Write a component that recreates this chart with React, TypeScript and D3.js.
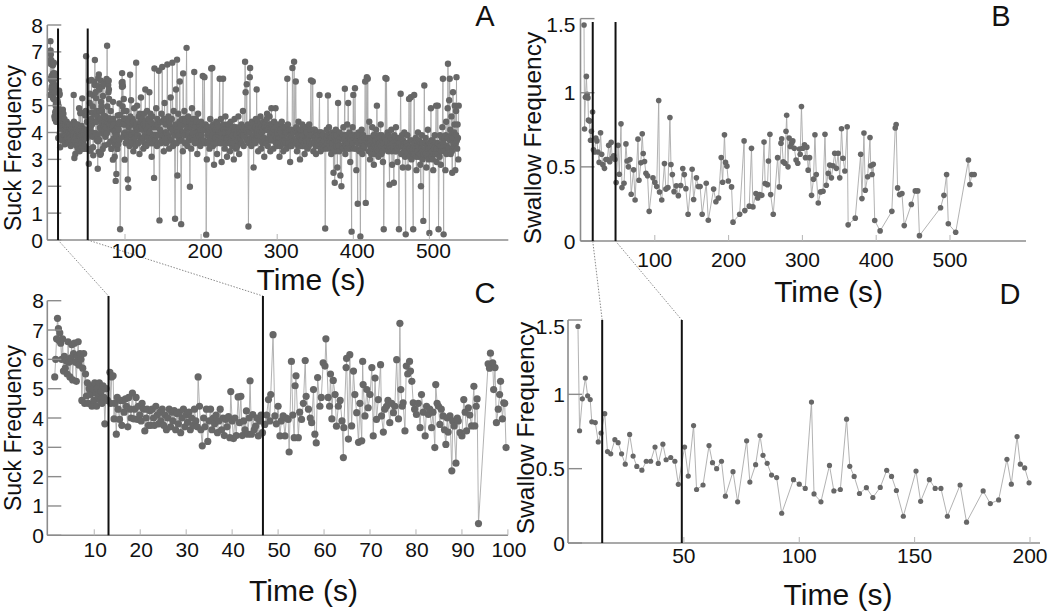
import React from 'react';
import * as d3 from 'd3';

// ---------- DATA (time s, frequency) ----------
// Suck frequency, first 100 s (panel C, and start of panel A)
const suckEarly: [number, number][] = [
  [1.4,5.4],[1.6,6.0],[1.8,6.7],[2.0,7.4],[2.2,7.05],[2.3,6.65],[2.5,6.9],[2.7,6.55],[2.9,6.0],[3.1,6.7],[3.3,5.6],[3.5,6.1],[3.7,5.7],[3.9,5.95],[4.1,5.5],[4.3,6.6],[4.5,5.9],[4.7,5.4],[4.9,6.05],[5.1,6.5],[5.3,5.3],[5.5,6.2],[5.7,6.55],[5.9,5.9],[6.1,5.25],[6.3,6.1],[6.5,6.6],[6.7,5.8],[6.9,6.2],[7.1,6.0],[7.3,4.6],[7.5,5.7],[7.7,6.2],[7.9,4.5],[8.1,5.5],[8.3,4.75],[8.5,5.2],[8.7,4.5],[8.9,5.0],[9.1,4.8],[9.3,5.1],[9.5,4.4],[9.7,5.0],[9.9,4.6],[10.1,5.2],[10.3,4.85],[10.5,4.4],[10.7,5.0],[10.9,4.7],[11.1,5.2],[11.3,4.6],[11.5,4.9],[11.7,4.5],[11.9,5.1],[12.1,4.7],[12.3,3.8],[12.6,5.0],[12.9,4.6],
  [13.4,5.56],[13.6,4.5],[13.8,5.4],[14.1,5.44],[14.3,3.97],[14.5,4.5],[14.8,3.45],[15.0,4.7],[15.2,4.3],[15.5,3.95],[15.7,4.6],[16.0,3.75],[16.2,4.6],[16.5,4.2],[16.8,4.65],[17.0,4.4],[17.3,3.7],[17.5,4.7],[17.8,4.3],[18.0,4.0],[18.3,4.85],[18.6,3.97],[18.8,4.3],[19.1,4.7],[19.4,3.95],[19.6,4.4],[19.9,4.1],[20.2,3.9],[20.4,4.5],[20.7,4.3],[21.0,3.56],[21.3,4.0],[21.5,4.3],[21.8,3.75],[22.1,4.25],[22.3,3.75],[22.6,4.3],[22.9,4.0],[23.1,3.75],[23.4,4.4],[23.7,4.1],[24.0,3.8],[24.3,4.2],[24.5,3.9],[24.8,4.3],[25.1,3.75],[25.4,4.1],[25.7,3.6],[26.0,4.0],[26.3,4.3],[26.6,3.7],[26.9,4.2],[27.1,3.9],[27.4,4.25],[27.7,3.6],[28.0,4.15],[28.3,3.8],[28.5,4.2],[28.8,3.5],[29.1,4.0],[29.4,4.3],[29.7,3.7],[30.0,4.1],[30.3,3.85],[30.6,4.2],[30.9,3.6],[31.2,4.0],[31.5,3.75],[31.8,4.3],[32.1,3.9],[32.4,3.7],[32.6,5.4],[32.9,4.4],[33.2,3.6],[33.5,3.05],[33.8,4.0],[34.1,3.7],[34.4,4.3],[34.7,3.2],[35.0,3.9],[35.3,4.3],[35.6,3.6],[35.9,4.0],[36.2,3.8],[36.5,4.1],[36.8,3.5],[37.1,3.9],[37.4,4.3],[37.7,3.6],[38.0,4.0],[38.3,3.4],[38.6,3.95],[38.9,3.7],[39.2,4.05],[39.5,3.33],[39.7,4.9],[40.0,3.9],[40.3,3.3],[40.6,4.0],[40.9,3.4],[41.3,4.72],[41.6,3.84],[41.9,4.74],[42.2,3.4],[42.5,3.9],[42.8,3.6],[43.1,4.24],[43.4,3.45],[43.7,4.0],[43.9,5.27],[44.2,3.45],[44.5,4.12],[44.8,3.6],[45.1,3.72],[45.4,4.0],[45.7,3.39],[46.0,3.9],[46.3,4.1],[46.6,3.5],
  [47.1,3.78],[47.5,4.1],[47.9,4.63],[48.2,3.9],[48.4,4.8],[48.9,6.84],[49.3,4.07],[49.6,3.8],[50.0,4.4],[50.4,3.39],[50.7,3.9],[51.1,4.07],[51.5,3.39],[51.8,4.0],[52.2,3.95],[52.4,2.84],[52.9,5.93],[53.2,4.1],[53.5,3.33],[53.7,5.1],[53.9,5.44],[54.4,3.33],[54.7,4.2],[55.1,3.95],[55.5,4.5],[55.9,5.96],[56.1,4.74],[56.6,4.3],[57.0,4.0],[57.3,3.84],[57.7,4.97],[58.0,3.45],[58.3,3.15],[58.6,5.38],[59.1,4.4],[59.4,4.7],[59.8,5.88],[60.2,5.77],[60.4,6.7],[60.9,4.7],[61.2,4.4],[61.4,5.5],[61.7,3.97],[62.0,5.28],[62.4,4.8],[62.7,3.72],[63.1,4.4],[63.5,4.6],[63.9,3.9],[64.2,2.65],[64.3,3.67],[64.8,5.72],[64.9,6.03],[65.3,3.28],[65.6,6.16],[66.0,3.73],[66.4,5.6],[66.7,4.8],[67.1,4.18],[67.5,3.17],[67.8,4.5],[68.2,3.22],[68.4,5.93],[68.5,5.14],[68.9,4.07],[69.3,4.97],[69.6,4.35],[70.0,4.8],[70.4,5.72],[70.7,3.39],[71.1,5.36],[71.4,3.95],[71.8,4.63],[72.3,5.82],[72.5,4.07],[72.9,3.52],[73.2,4.3],[73.6,4.4],[73.9,4.6],[74.3,3.84],[74.7,4.5],[75.1,4.18],[75.4,4.4],[75.8,5.99],[76.2,3.97],[76.5,7.23],[76.7,4.97],[77.0,4.4],[77.2,4.52],[77.6,3.56],[77.9,5.77],[78.2,5.5],[78.6,5.93],[78.8,5.6],[79.1,5.25],[79.4,4.52],[79.7,4.3],[80.1,4.12],[80.5,4.5],[80.9,3.67],[81.2,4.8],[81.6,4.2],[82.0,3.39],[82.3,4.4],[82.7,4.12],[83.0,4.3],[83.4,3.67],[83.7,4.2],[84.1,2.99],[84.3,5.14],[84.6,4.5],[84.9,4.4],[85.2,3.78],[85.5,4.3],[85.9,4.07],[86.2,3.6],[86.5,3.1],[86.8,4.0],[87.0,3.52],[87.4,4.07],[87.8,2.2],[88.0,3.9],[88.3,3.73],[88.7,2.46],[89.0,4.0],[89.2,3.9],[89.6,3.5],[90.0,3.39],[90.4,4.63],[90.7,4.2],[91.0,3.56],[91.4,4.35],[91.7,4.1],[92.1,3.73],[92.6,5.08],[92.8,3.73],[93.1,4.4],[93.3,4.65],[93.6,0.4],[95.7,5.85],[96.0,5.7],[96.2,6.21],[96.5,5.8],[96.7,5.88],[96.9,4.97],[97.2,5.72],[97.5,3.84],[97.9,4.3],[98.2,4.8],[98.4,5.25],[98.8,3.97],[99.1,4.52],[99.3,4.5],[99.6,2.99],
];

// Suck frequency, 100 s to end (panel A only), whole-second readings and spikes
const suckLate: [number, number][] = [
  [100,4.3],[101,3.6],[102,4.8],[103,3.9],[103.6,2.25],[104.4,1.94],[105,4.4],[106,3.5],[106.7,6.15],[107.5,4.0],[108,5.2],[109,3.7],[110,4.5],[111,3.3],[112,4.9],[113,3.8],[114,4.2],[114.7,6.6],[115.5,3.6],[116,5.0],[117,3.9],[118,4.6],[119,3.2],[120,4.4],[121,5.3],[122,3.7],[123,4.1],[124,3.4],[125,4.7],[126,3.9],[126.7,5.6],[127.5,4.2],[128,3.5],[129,4.8],[130,3.8],[131,4.3],[132,5.5],[133,3.6],[134,4.4],[135,3.1],[136,4.6],[137,3.9],[138.2,2.31],[138.7,6.38],[139.5,4.2],
  [140,3.7],[141,4.9],[142,3.5],[143,4.3],[144,3.9],[144.4,6.3],[145.3,0.73],[146,4.1],[147,3.6],[148,4.7],[148.9,6.44],[149.5,3.8],[150,4.4],[151,3.3],[152,5.1],[153,4.0],[154,3.6],[155,4.5],[155.6,6.53],[156.5,3.9],[157,4.6],[158,3.4],[159,4.2],[160,5.3],[161,3.7],[162,4.1],[162.2,6.6],[163,3.5],[164,4.8],[165,3.9],[165.8,0.79],[166.5,4.3],[167,5.6],[168,3.6],[168.4,6.71],[168.9,2.4],[169.5,4.0],[170,4.7],[171,3.8],[172,5.9],[173,4.2],[173.8,0.59],[174.5,3.7],[175,4.5],[176,3.3],[176.4,6.2],[177,4.0],[178,4.8],[179,3.6],[180,4.4],[180.9,7.15],[181.5,4.1],[182,3.5],[183,4.6],[184,3.9],[185.3,1.98],[186,4.2],[187,3.4],[188,4.9],[189,3.8],[190,4.3],[191,6.25],[192,3.6],[193,4.5],[194,4.0],[195,3.2],[196,4.7],[197,3.9],[198,4.2],[199,3.5],[200,4.4],[201,3.7],[202.2,6.1],[203,4.1],[204.4,6.06],[205,3.6],[206,4.3],[206.7,0.2],[207.5,3.0],[208,4.2],[209,3.6],
  [210,4.0],[211,3.4],[212,4.5],[213.3,6.38],[214,3.8],[214.7,6.4],[215.5,3.5],[216,4.3],[217,2.8],[218,4.0],[219,3.6],[220,4.4],[221,3.2],[222,4.1],[223,3.7],[224.4,6.0],[225,3.9],[226,4.5],[227,2.9],[228,4.2],[228.9,6.0],[229.5,3.6],[230,4.1],[231,3.4],[232,4.6],[233,3.8],[234,3.1],[235,4.3],[236,3.7],[237,4.0],[238,3.3],[239,4.4],[240,3.9],[241,3.5],[242,4.2],[243,3.0],[244,4.5],[245,3.8],[246,3.4],[247,4.1],[248,3.7],[249,4.6],[250,3.2],[251,4.0],[252,3.6],[253,4.3],[254,3.9],[255,4.8],[256,3.5],[257,4.2],[257.8,6.63],[258.5,5.5],[259,3.8],
  [260,5.8],[261,4.0],[262.2,0.5],[263,3.6],[264,6.06],[264.4,6.4],[265,4.2],[266,3.5],[267,4.4],[268,3.8],[269,2.7],[270,4.1],[271,3.6],[272,4.5],[273,5.6],[274,3.9],[275,3.3],[276,4.2],[277,3.7],[278,4.6],[279,3.4],[280,4.0],[281,3.8],[282,4.4],[283,3.1],[284,4.2],[285,3.6],[286,4.5],[286.7,4.7],[287.5,3.5],[288,4.1],[289,3.8],[290,4.6],[291,3.3],[292,4.3],[292.4,4.9],[293,3.7],[294,4.0],[295,3.4],[296,4.4],[297,3.9],[297.8,4.9],[298.5,3.6],[299,4.2],
  [300,3.5],[301,4.3],[302,3.8],[303,3.1],[304,4.1],[305,3.6],[306,4.4],[307,3.9],[308,3.3],[309,4.2],[310,3.7],[311,4.0],[312,3.4],[313.3,6.0],[314,4.3],[315,3.6],[316,4.1],[317,2.9],[318,3.9],[319,3.5],[320,6.4],[321,4.0],[322.2,6.63],[323,3.7],[324.4,5.9],[325,4.2],[326,3.3],[327,3.9],[328,4.4],[329,3.6],[330,3.0],[331,4.1],[332,3.7],[333,4.3],[334,3.5],[335,3.9],[336,3.2],[337,4.2],[338,3.7],[339,4.0],[340,3.4],[341,3.8],[342,4.3],[343,3.6],[344.4,5.94],[345,3.9],[346.7,5.9],[347.5,3.3],[348,4.1],[349,3.6],[350,3.8],[351,3.2],[352,4.0],[353,3.5],[354,3.9],[355.6,5.4],[356,3.7],[357,3.3],[358,4.0],[359,3.6],
  [360,3.9],[361,3.4],[362,3.7],[363.1,0.43],[364,3.5],[365,4.1],[366,3.6],[366.7,5.38],[367.5,3.9],[368,4.2],[369,3.5],[370,3.8],[371,3.2],[372,4.0],[373,3.6],[374,2.5],[375,3.9],[375.6,2.13],[376.5,3.3],[377,4.1],[378,3.7],[379,2.7],[380,5.1],[381,3.5],[382,4.0],[383,2.4],[384.4,2.0],[385,3.8],[386,3.4],[387,4.2],[388,3.7],[388.9,5.63],[389.5,3.2],[390,3.9],[391,3.5],[392,4.3],[393.3,5.1],[394,3.6],[395,4.0],[396,2.9],[397,3.7],[397.8,0.31],[398.5,3.5],[399,4.2],[400,5.4],[401,3.4],[402.2,5.65],[403,3.8],[404,2.6],[405,3.9],[405.8,1.35],[406.5,3.6],[407,4.0],[408,3.3],[409.3,0.13],[410,3.7],[411,4.1],[412,3.2],[413,3.9],[414,3.5],[415.6,5.9],[416.4,1.38],[417.8,6.06],[419,6.0],
  [420,3.6],[421,4.4],[422,3.0],[423,3.8],[424,3.3],[425,4.2],[426,3.6],[427,2.8],[428,3.9],[429,3.4],[430,4.1],[431,5.0],[432,3.5],[433,3.1],[434,3.9],[435,3.6],[436,4.3],[437,3.2],[438,3.7],[439,2.9],[440,0.4],[441,3.8],[442.2,6.03],[443.6,6.0],[444.5,3.5],[445,4.0],[446,3.3],[447.6,2.06],[448.5,3.7],[449,3.4],[450,4.1],[451,2.8],[452,3.6],[453.3,2.13],[454,3.9],[455,3.3],[456,4.2],[457,3.5],[458,2.9],[459,3.8],[460,0.4],[461,3.6],[462.2,5.44],[463,3.2],[464,3.9],[465,2.7],[466,3.5],[467,4.0],[468,3.1],[468.9,0.21],[469.5,3.6],
  [470,3.3],[471,3.9],[472,2.7],[473.3,5.25],[474,3.4],[475.6,5.31],[476.5,3.0],[477,3.7],[478.7,0.4],[479.5,3.5],[480,5.4],[481,3.2],[482,3.8],[483,2.6],[484,3.5],[485,4.0],[486,3.1],[487,3.6],[488,2.8],[488.9,2.0],[489.5,3.4],[490,3.9],[491,3.0],[492,0.71],[493.3,5.75],[494,3.3],[495,3.8],[496,2.7],[497,3.5],[498,4.1],[499,3.0],[500,0.26],[501,3.6],[502,4.9],[503,3.1],[504,3.7],[505,2.6],[506,3.4],[507,3.9],[508,3.2],[508.9,5.0],[509.5,2.9],[510,3.6],[511,5.0],[512,0.4],[513,3.4],[514,3.9],[515,2.8],[516,3.5],[517,4.2],[517.8,6.0],[518.7,0.21],[519.5,3.3],[520,3.8],[521,2.6],[522,4.4],[523,3.5],[524,4.9],[524.4,6.56],[525,3.8],[526,5.2],[526.7,6.0],[527.5,4.1],[528,3.2],[529,4.6],[530,2.5],[531,5.5],[532,3.6],[533,4.3],[533.3,5.0],[534,2.6],[535,4.8],[535.6,6.06],[536.5,3.4],[537,4.3],[538,3.0],[538.5,5.0],
];

// Suck frequency, 100 s to end, in-between readings inside the dense band
const suckLateHalf: [number, number][] = [
  [100.5,4.0],[101.5,4.5],[102.5,3.7],[104.8,4.2],[105.5,3.9],[107,4.6],[108.5,3.9],[109.5,4.3],[110.5,3.6],[111.5,4.4],[112.5,4.0],[113.5,3.5],[115,4.3],[116.5,4.1],[117.5,3.6],[118.5,4.2],[119.5,4.7],[120.5,3.8],[121.5,4.2],[122.5,4.5],[123.5,3.8],[124.5,4.3],[125.5,3.6],[127,4.4],[128.5,4.1],[129.5,3.9],[130.5,4.5],[131.5,3.7],[132.5,4.0],[133.5,4.7],[134.5,3.8],[135.5,4.2],[136.5,3.6],[137.5,4.3],[139,3.9],
  [140.5,4.3],[141.5,3.9],[142.5,4.5],[143.5,3.6],[146.5,4.4],[147.5,4.0],[148.5,3.7],[150.5,3.9],[151.5,4.5],[152.5,3.8],[153.5,4.3],[154.5,4.0],[157.5,3.8],[158.5,4.4],[159.5,3.7],[160.5,4.2],[161.5,4.5],[163.5,4.0],[164.5,3.6],[167.5,4.1],[170.5,3.9],[171.5,4.4],[172.5,3.7],[175.5,4.0],[177.5,4.3],[178.5,3.9],[179.5,4.5],[182.5,4.2],[183.5,3.7],[184.5,4.4],[186.5,3.8],[187.5,4.3],[188.5,4.0],[189.5,4.5],[190.5,3.7],[192.5,4.2],[193.5,3.8],[194.5,4.4],[195.5,4.0],[196.5,3.6],[197.5,4.3],[198.5,3.8],[199.5,4.1],[200.5,3.9],[201.5,4.3],[203.5,3.7],[205.5,4.1],[208.5,3.9],[209.5,4.2],
  [210.5,3.7],[211.5,4.1],[212.5,3.8],[213.8,4.2],[215,3.9],[216.5,3.6],[217.5,4.2],[218.5,3.8],[219.5,4.1],[220.5,3.6],[221.5,4.3],[222.5,3.9],[223.5,4.2],[225.5,3.6],[226.5,4.0],[227.5,3.8],[229,4.3],[230.5,3.8],[231.5,4.0],[232.5,3.6],[233.5,4.2],[234.5,3.8],[235.5,4.0],[236.5,4.3],[237.5,3.6],[238.5,4.0],[239.5,3.7],[240.5,4.2],[241.5,3.9],[242.5,3.6],[243.5,4.1],[244.5,3.7],[245.5,4.2],[246.5,3.9],[247.5,3.5],[248.5,4.1],[249.5,3.8],[250.5,4.2],[251.5,3.7],[252.5,4.0],[253.5,3.6],[254.5,4.2],[255.5,3.9],[256.5,4.1],[259.5,4.1],
  [260.5,3.7],[261.5,4.3],[263.5,4.0],[265.5,3.8],[266.5,4.2],[267.5,3.6],[268.5,4.3],[269.5,3.9],[270.5,3.7],[271.5,4.2],[272.5,3.8],[273.5,4.1],[274.5,4.4],[275.5,3.8],[276.5,4.0],[277.5,4.3],[278.5,3.9],[279.5,4.2],[280.5,3.6],[281.5,4.1],[282.5,3.8],[283.5,4.3],[284.5,3.7],[285.5,4.1],[287,4.2],[288.5,3.7],[289.5,4.3],[290.5,3.9],[291.5,4.2],[293.5,4.3],[294.5,3.8],[295.5,4.1],[296.5,3.7],[297.3,4.2],[299.5,3.8],
  [300.5,4.0],[301.5,3.6],[302.5,4.1],[303.5,3.8],[304.5,3.5],[305.5,4.0],[306.5,3.7],[307.5,4.2],[308.5,3.6],[309.5,3.9],[310.5,4.2],[311.5,3.6],[312.5,4.0],[314.5,3.7],[315.5,4.1],[316.5,3.8],[317.5,3.5],[318.5,4.1],[319.5,3.8],[321.5,3.6],[323.5,4.1],[325.5,3.7],[326.5,4.0],[327.5,3.5],[328.5,3.9],[329.5,4.1],[330.5,3.7],[331.5,3.9],[332.5,3.5],[333.5,3.9],[334.5,4.1],[335.5,3.6],[336.5,3.9],[337.5,3.5],[338.5,4.1],[339.5,3.8],[340.5,3.9],[341.5,3.5],[342.5,3.9],[343.5,4.1],[345.5,3.6],[348.5,3.8],[349.5,4.1],[350.5,3.5],[351.5,3.9],[352.5,3.6],[353.5,4.0],[354.5,3.6],[356.5,4.0],[357.5,3.7],[358.5,3.4],[359.5,3.9],
  [360.5,3.6],[361.5,3.9],[362.5,3.5],[364.5,3.8],[365.5,3.4],[366.3,3.9],[368.5,3.6],[369.5,3.9],[370.5,3.4],[371.5,3.8],[372.5,3.5],[373.5,3.9],[374.5,3.4],[376,3.7],[377.5,3.5],[378.5,3.9],[380.5,3.7],[381.5,3.3],[382.5,3.8],[383.5,3.5],[385.5,3.5],[386.5,3.9],[387.5,3.4],[389,3.8],[390.5,3.5],[391.5,3.9],[392.5,3.4],[394.5,3.8],[395.5,3.4],[396.5,3.8],[398,3.9],[399.5,3.6],[400.5,3.8],[401.5,3.9],[403.5,3.4],[404.5,3.7],[406,3.9],[407.5,3.6],[408.5,3.9],[410.5,3.4],[411.5,3.7],[412.5,3.9],[413.5,3.4],[414.5,3.8],[415,3.5],[417,3.7],[418.5,3.6],[419.5,3.8],
  [420.5,3.3],[421.5,3.6],[422.5,3.5],[423.5,3.2],[424.5,3.7],[425.5,3.4],[426.5,3.9],[427.5,3.5],[428.5,3.2],[429.5,3.7],[430.5,3.4],[431.5,3.8],[432.5,3.3],[433.5,3.6],[434.5,3.4],[435.5,3.8],[436.5,3.5],[437.5,3.9],[438.5,3.3],[439.5,3.6],[441.5,3.4],[443,3.7],[445.5,3.6],[446.5,3.9],[448,3.5],[449.5,3.8],[450.5,3.3],[451.5,3.7],[452.5,3.4],[454.5,3.5],[455.5,3.8],[456.5,3.3],[457.5,3.7],[458.5,3.4],[459.5,3.6],[460.5,3.5],[461.5,3.8],[463.5,3.5],[464.5,3.2],[465.5,3.7],[466.5,3.3],[467.5,3.6],[469,3.4],
  [470.5,3.6],[471.5,3.2],[472.5,3.5],[474.5,3.1],[475,3.7],[476,3.3],[477.5,3.4],[479,3.2],[480.5,3.6],[481.5,3.4],[482.5,3.1],[483.5,3.7],[484.5,3.3],[485.5,3.5],[486.5,3.7],[487.5,3.2],[489,3.6],[490.5,3.3],[491.5,3.6],[492.7,3.2],[494.5,3.6],[495.5,3.2],[496.5,3.5],[497.5,3.1],[498.5,3.4],[499.5,3.6],[500.5,3.2],[501.5,3.4],[502.5,3.7],[503.5,3.3],[504.5,3.0],[505.5,3.5],[506.5,3.2],[507.5,3.6],[509,3.4],[510.5,3.2],[511.5,3.6],[513.5,3.1],[514.5,3.5],[515.5,3.3],[516.5,3.8],[518.2,3.6],[519,3.4],[520.5,3.5],[521.5,3.9],[522.5,3.2],[523.5,3.8],[525.5,3.4],[527,3.7],[528.5,3.9],[529.5,3.3],[530.5,3.8],[531.5,3.5],[532.5,4.0],[534.5,3.6],[535.2,3.9],[536,3.7],[537.5,3.8],
];

// Swallow frequency, first 200 s (panel D, and start of panel B)
const swallowEarly: [number, number][] = [
  [4.1,1.457],[4.8,0.755],[6.0,0.97],[7.3,1.11],[8.3,0.99],[9.4,0.965],[10.1,0.815],[11.6,0.81],[12.9,0.68],[14.1,0.74],[15.7,0.87],[16.9,0.615],[18.3,0.60],[20.1,0.695],[21.5,0.675],[23.0,0.60],[24.6,0.53],[26.5,0.73],[28.0,0.585],[29.6,0.515],[31.8,0.49],[33.7,0.55],[35.6,0.55],[37.5,0.645],[38.9,0.535],[40.9,0.665],[42.3,0.56],[44.3,0.575],[46.1,0.55],[47.6,0.395],[50.3,0.645],[51.9,0.45],[54.2,0.79],[55.5,0.36],[58.3,0.39],[60.9,0.655],[62.4,0.54],[64.2,0.50],[66.3,0.55],[68.0,0.315],[71.3,0.48],[73.3,0.277],[77.2,0.687],[78.6,0.41],[81.1,0.527],[83.0,0.723],[84.3,0.59],[86.1,0.536],[88.0,0.457],[90.2,0.44],[92.4,0.20],[97.5,0.426],[100.0,0.396],[102.6,0.367],[105.3,0.948],[106.4,0.33],[109.4,0.277],[113.1,0.522],[115.0,0.35],[117.8,0.36],[120.5,0.833],[121.9,0.516],[123.8,0.448],[126.1,0.333],[129.1,0.372],[131.9,0.306],[135.1,0.374],[137.9,0.489],[140.0,0.448],[142.1,0.353],[145.1,0.18],[150.6,0.484],[152.6,0.28],[156.4,0.426],[158.9,0.367],[161.4,0.367],[164.2,0.18],[169.7,0.39],[172.5,0.14],[179.7,0.35],[182.8,0.265],[186.4,0.29],[190.0,0.563],[191.9,0.396],[194.4,0.716],[195.8,0.53],[197.7,0.505],[199.6,0.405],
];

// Swallow frequency, 200 s to end (panel B only)
const swallowLate: [number, number][] = [
  [204,0.365],[206,0.127],[215,0.18],[221,0.675],[222,0.205],[228,0.235],[231,0.625],[233,0.23],[237,0.32],[239.5,0.29],[242,0.313],[245,0.308],[248,0.667],[249.5,0.388],[252.7,0.38],[254,0.54],[256,0.72],[257,0.313],[260.5,0.18],[266.4,0.562],[268.7,0.365],[271,0.66],[272,0.69],[274,0.535],[276.4,0.524],[277.8,0.74],[278.7,0.848],[280.5,0.50],[282,0.694],[283.7,0.637],[285.5,0.66],[287,0.675],[289,0.626],[291.4,0.546],[293.7,0.524],[296,0.621],[297,0.585],[298.7,0.907],[300.5,0.626],[302.8,0.648],[304.2,0.562],[306,0.633],[307.8,0.478],[309.7,0.562],[312.4,0.308],[315,0.417],[317,0.717],[318.8,0.449],[321.5,0.256],[324.7,0.331],[328,0.336],[330.6,0.72],[332.4,0.376],[335,0.456],[337,0.512],[339.3,0.426],[341.5,0.508],[343.8,0.592],[346,0.49],[348.4,0.592],[350.6,0.426],[353,0.757],[355,0.558],[357.5,0.472],[360.7,0.771],[362,0.109],[371.6,0.154],[379,0.585],[380.7,0.286],[383.4,0.728],[385.2,0.342],[388.4,0.433],[391.6,0.698],[392.5,0.508],[394.4,0.449],[396,0.517],[398,0.138],[405.3,0.068],[421.2,0.2],[425.8,0.762],[427,0.785],[429,0.358],[431.7,0.313],[434.9,0.32],[438,0.104],[447.6,0.247],[453,0.338],[456.3,0.338],[458.6,0.036],[487.2,0.224],[491.8,0.308],[495.4,0.449],[497.7,0.116],[507.7,0.059],[525,0.546],[526.9,0.381],[529.6,0.449],[532.8,0.449],
];

const suckTicks = [0, 1, 2, 3, 4, 5, 6, 7, 8];
const swallowTicks = [0, 0.5, 1, 1.5];
const swallowTickLabels = ['0', '0.5', '1', '1.5'];
const timeTicksLong = [100, 200, 300, 400, 500];
const timeTicksC = [10, 20, 30, 40, 50, 60, 70, 80, 90, 100];
const timeTicksD = [50, 100, 150, 200];
const boundsA = [12, 51];
const boundsB = [15.9, 46.8];
const boundsC = [13.1, 46.7];
const boundsD = [14.6, 49.1];

const FONT = "'Liberation Sans', Arial, Helvetica, sans-serif";
const DOT = '#676767';
const LINE = '#a9a9a9';
const AXIS = '#8c8c8c';

type Cfg = {
  data: [number, number][];
  x: d3.ScaleLinear<number, number>;
  y: d3.ScaleLinear<number, number>;
  axisLeft: number; axisRight: number; axisTop: number; axisY: number;
  yTicks: number[]; yLabels: string[]; yLabelRight: number; topLabelDy: number;
  xTicks: number[]; xLabelBase: number; xLabelDx: number;
  markers: number[]; markerTop: number;
  r: number;
  yTitle: string; yTitleX: number; yTitleY: number; yTitleSize: number;
  xTitleX: number; xTitleY: number;
  letter: string; letterX: number; letterY: number;
};

function Panel({ c }: { c: Cfg }) {
  const line = d3.line<[number, number]>().x(d => c.x(d[0])).y(d => c.y(d[1]));
  return (
    <g>
      <path d={line(c.data) || ''} fill="none" stroke={LINE} strokeWidth={0.9} />
      {c.data.map((d, i) => (
        <circle key={i} cx={c.x(d[0])} cy={c.y(d[1])} r={c.r} fill={DOT} />
      ))}
      <line x1={c.axisLeft} x2={c.axisLeft} y1={c.axisTop} y2={c.axisY} stroke={AXIS} strokeWidth={1.6} />
      {c.yTicks.map((t, i) => (
        <g key={i}>
          <line x1={c.axisLeft} x2={c.axisLeft + 14} y1={c.y(t)} y2={c.y(t)} stroke={AXIS} strokeWidth={1.4} />
          <text x={c.yLabelRight} y={c.y(t) + (i === c.yTicks.length - 1 ? c.topLabelDy : 0)} textAnchor="end" dominantBaseline="central" fontSize={21} fill="#111">{c.yLabels[i]}</text>
        </g>
      ))}
      <line x1={c.axisLeft} x2={c.axisRight} y1={c.axisY} y2={c.axisY} stroke={AXIS} strokeWidth={1.6} />
      {c.xTicks.map((t, i) => (
        <g key={i}>
          <line x1={c.x(t)} x2={c.x(t)} y1={c.axisY} y2={c.axisY - 6} stroke="#b5b5b5" strokeWidth={1} />
          <text x={c.x(t) + c.xLabelDx} y={c.xLabelBase} textAnchor="middle" fontSize={21} fill="#111">{String(t)}</text>
        </g>
      ))}
      {c.markers.map((m, i) => (
        <line key={i} x1={c.x(m)} x2={c.x(m)} y1={c.markerTop} y2={c.axisY} stroke="#111" strokeWidth={2} />
      ))}
      <text transform={`translate(${c.yTitleX},${c.yTitleY}) rotate(-90)`} textAnchor="middle" fontSize={c.yTitleSize} fill="#111">{c.yTitle}</text>
      <text x={c.xTitleX} y={c.xTitleY} textAnchor="middle" fontSize={30} fill="#111">Time (s)</text>
      <text x={c.letterX} y={c.letterY} textAnchor="middle" fontSize={29} fill="#111">{c.letter}</text>
    </g>
  );
}

export default function App() {
  const suckAll = [...suckEarly, ...suckLate, ...suckLateHalf].sort((a, b) => a[0] - b[0]);
  const swallowAll = [...swallowEarly, ...swallowLate];

  const A: Cfg = {
    data: suckAll,
    x: d3.scaleLinear().domain([0, 500]).range([48.9, 429.4]),
    y: d3.scaleLinear().domain([0, 8]).range([240, 25]),
    axisLeft: 47.3, axisRight: 508.3, axisTop: 25, axisY: 240,
    yTicks: suckTicks, yLabels: suckTicks.map(String), yLabelRight: 43, topLabelDy: 0,
    xTicks: timeTicksLong, xLabelBase: 258, xLabelDx: 4,
    markers: boundsA, markerTop: 28.5, r: 3.2,
    yTitle: 'Suck Frequency', yTitleX: 21, yTitleY: 148, yTitleSize: 23,
    xTitleX: 311, xTitleY: 290, letter: 'A', letterX: 485, letterY: 25.5,
  };
  const C: Cfg = {
    data: suckEarly,
    x: d3.scaleLinear().domain([0, 100]).range([48.3, 507.9]),
    y: d3.scaleLinear().domain([0, 8]).range([535.3, 300.7]),
    axisLeft: 47.3, axisRight: 508, axisTop: 300.7, axisY: 535.3,
    yTicks: suckTicks, yLabels: suckTicks.map(String), yLabelRight: 44, topLabelDy: 0,
    xTicks: timeTicksC, xLabelBase: 557, xLabelDx: 1,
    markers: boundsC, markerTop: 296, r: 3.6,
    yTitle: 'Suck Frequency', yTitleX: 21, yTitleY: 428, yTitleSize: 23,
    xTitleX: 303.5, xTitleY: 601, letter: 'C', letterX: 485, letterY: 303,
  };
  const B: Cfg = {
    data: swallowAll,
    x: d3.scaleLinear().domain([0, 500]).range([581, 950]),
    y: d3.scaleLinear().domain([0, 1.5]).range([241, 18.6]),
    axisLeft: 580.5, axisRight: 1026, axisTop: 18.6, axisY: 241,
    yTicks: swallowTicks, yLabels: swallowTickLabels, yLabelRight: 575.5, topLabelDy: 6,
    xTicks: timeTicksLong, xLabelBase: 267, xLabelDx: 0,
    markers: boundsB, markerTop: 22, r: 2.8,
    yTitle: 'Swallow Frequency', yTitleX: 541, yTitleY: 138, yTitleSize: 24.5,
    xTitleX: 828.6, xTitleY: 302, letter: 'B', letterX: 1001, letterY: 25.5,
  };
  const D: Cfg = {
    data: swallowEarly,
    x: d3.scaleLinear().domain([0, 200]).range([568.5, 1030]),
    y: d3.scaleLinear().domain([0, 1.5]).range([543, 320]),
    axisLeft: 568, axisRight: 1040, axisTop: 320, axisY: 543,
    yTicks: swallowTicks, yLabels: swallowTickLabels, yLabelRight: 565, topLabelDy: 6,
    xTicks: timeTicksD, xLabelBase: 563, xLabelDx: 0,
    markers: boundsD, markerTop: 320, r: 2.6,
    yTitle: 'Swallow Frequency', yTitleX: 534, yTitleY: 428, yTitleSize: 24.5,
    xTitleX: 838, xTitleY: 605, letter: 'D', letterX: 1010, letterY: 304,
  };

  const connectors = [
    [A.x(boundsA[0]), A.axisY, C.x(boundsC[0]), C.markerTop],
    [A.x(boundsA[1]), A.axisY, C.x(boundsC[1]), C.markerTop],
    [B.x(boundsB[0]), B.axisY, D.x(boundsD[0]), D.markerTop],
    [B.x(boundsB[1]), B.axisY, D.x(boundsD[1]), D.markerTop],
  ];

  return (
    <svg width={1050} height={613} style={{ position: 'absolute', left: 0, top: 0, background: '#fff' }} fontFamily={FONT}>
      <rect width={1050} height={613} fill="#fff" />
      {connectors.map((c, i) => (
        <line key={i} x1={c[0]} y1={c[1]} x2={c[2]} y2={c[3]} stroke="#8a8a8a" strokeWidth={1} strokeDasharray="1.5,1.5" />
      ))}
      <Panel c={A} />
      <Panel c={B} />
      <Panel c={C} />
      <Panel c={D} />
    </svg>
  );
}
